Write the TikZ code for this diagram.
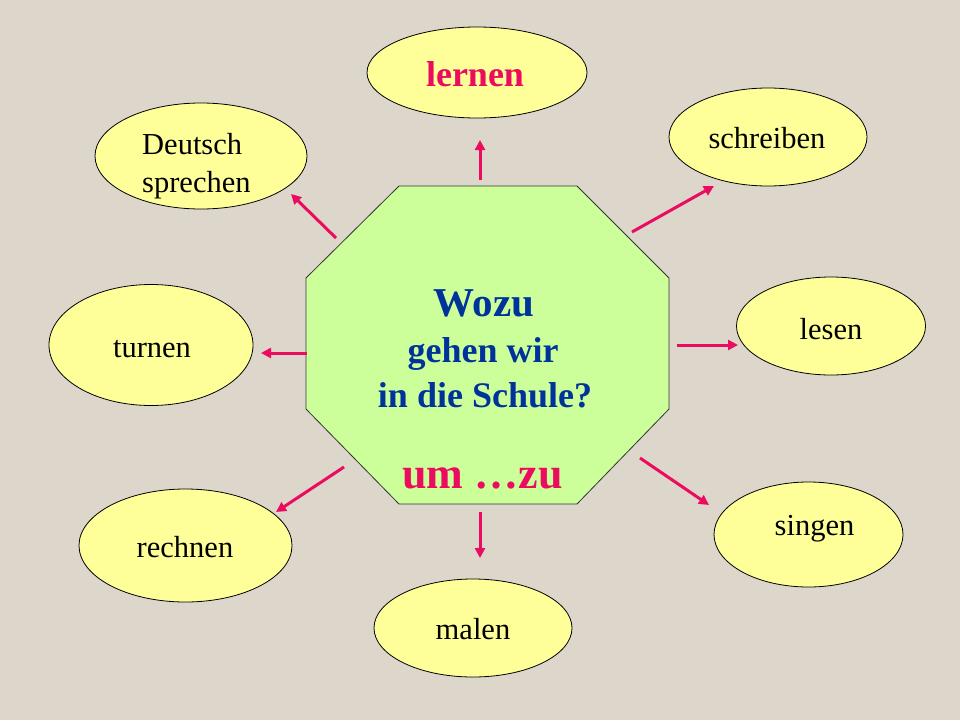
\documentclass[tikz,border=0pt]{standalone}
\usepackage{fontspec}
\setmainfont{Liberation Serif}
\usetikzlibrary{arrows.meta,shapes.geometric}
\definecolor{bgcol}{RGB}{221,214,202}
\definecolor{ellfill}{RGB}{255,255,153}
\definecolor{octfill}{RGB}{204,255,153}
\definecolor{titleblue}{RGB}{0,51,153}
\definecolor{accent}{RGB}{235,12,95}
\tikzset{
  bubble/.style={ellipse, draw=black, line width=0.8pt, fill=ellfill, inner sep=0pt},
  wordtext/.style={anchor=base, inner sep=0pt, font=\fontsize{30.5}{36}\selectfont, text=black},
  redword/.style={anchor=base, inner sep=0pt, font=\fontsize{36}{42}\selectfont\bfseries, text=accent},
  centertext/.style={anchor=base, inner sep=0pt, text=titleblue},
  arr/.style={draw=accent, line width=3pt, -{Triangle[length=10pt,width=10pt]}},
}
\begin{document}
\begin{tikzpicture}[x=1pt,y=-1pt]
\useasboundingbox (0,0) rectangle (960,720);
\fill[bgcol] (0,0) rectangle (960,720);

% central octagon
\draw[fill=octfill, draw=black!80, line width=0.8pt]
  (399,186) -- (577,186) -- (669,278) -- (669,409) -- (577,504) -- (399,504) -- (306,409) -- (306,278) -- cycle;
\node[centertext, font=\fontsize{41}{48}\selectfont\bfseries] (wozu) at (484,316) {Wozu};
\node[centertext, font=\fontsize{36}{42}\selectfont\bfseries] (gehen) at (483,362) {gehen wir};
\node[centertext, font=\fontsize{36}{42}\selectfont\bfseries] (schule) at (485,407) {in die Schule?};
\node[anchor=base, inner sep=0pt, text=accent, font=\fontsize{44}{50}\selectfont\bfseries] (umzu) at (482.5,488) {um …zu};

% ellipses
\node[bubble, minimum width=220pt, minimum height=91pt] (lernen) at (477,72.5) {};
\node[redword] (lernenT) at (475,86) {lernen};

\node[bubble, minimum width=198pt, minimum height=98pt] (schreiben) at (768,137) {};
\node[wordtext] (schreibenT) at (767,148) {schreiben};

\node[bubble, minimum width=212pt, minimum height=106pt] (deutsch) at (201,156) {};
\node[wordtext, anchor=base west] (deutschT) at (142,154) {Deutsch};
\node[wordtext, anchor=base west] (sprechenT) at (142,192) {sprechen};

\node[bubble, minimum width=189pt, minimum height=98pt] (lesen) at (831,326) {};
\node[wordtext] (lesenT) at (831,339) {lesen};

\node[bubble, minimum width=204pt, minimum height=121pt] (turnen) at (151,345) {};
\node[wordtext] (turnenT) at (152,357) {turnen};

\node[bubble, minimum width=189pt, minimum height=105pt] (singen) at (808.5,534.5) {};
\node[wordtext] (singenT) at (814.5,535) {singen};

\node[bubble, minimum width=213pt, minimum height=113pt] (rechnen) at (185.5,545.5) {};
\node[wordtext] (rechnenT) at (185,557) {rechnen};

\node[bubble, minimum width=198pt, minimum height=98pt] (malen) at (473,628) {};
\node[wordtext] (malenT) at (473,639) {malen};

% arrow end points
\coordinate (sUp) at (480,180);   \coordinate (tUp) at (480,140);
\coordinate (sSch) at (632,232);  \coordinate (tSch) at (714,186);
\coordinate (sDeu) at (336,238);  \coordinate (tDeu) at (291,194);
\coordinate (sLes) at (677,345);  \coordinate (tLes) at (738,345);
\coordinate (sTur) at (307,353);  \coordinate (tTur) at (261,353);
\coordinate (sSin) at (640,458);  \coordinate (tSin) at (709,505);
\coordinate (sRec) at (344,467);  \coordinate (tRec) at (276,512);
\coordinate (sMal) at (480,512);  \coordinate (tMal) at (480,558);

\draw[arr] (sUp) -- (tUp);
\draw[arr] (sSch) -- (tSch);
\draw[arr] (sDeu) -- (tDeu);
\draw[arr] (sLes) -- (tLes);
\draw[arr] (sTur) -- (tTur);
\draw[arr] (sSin) -- (tSin);
\draw[arr] (sRec) -- (tRec);
\draw[arr] (sMal) -- (tMal);
\end{tikzpicture}
\end{document}
